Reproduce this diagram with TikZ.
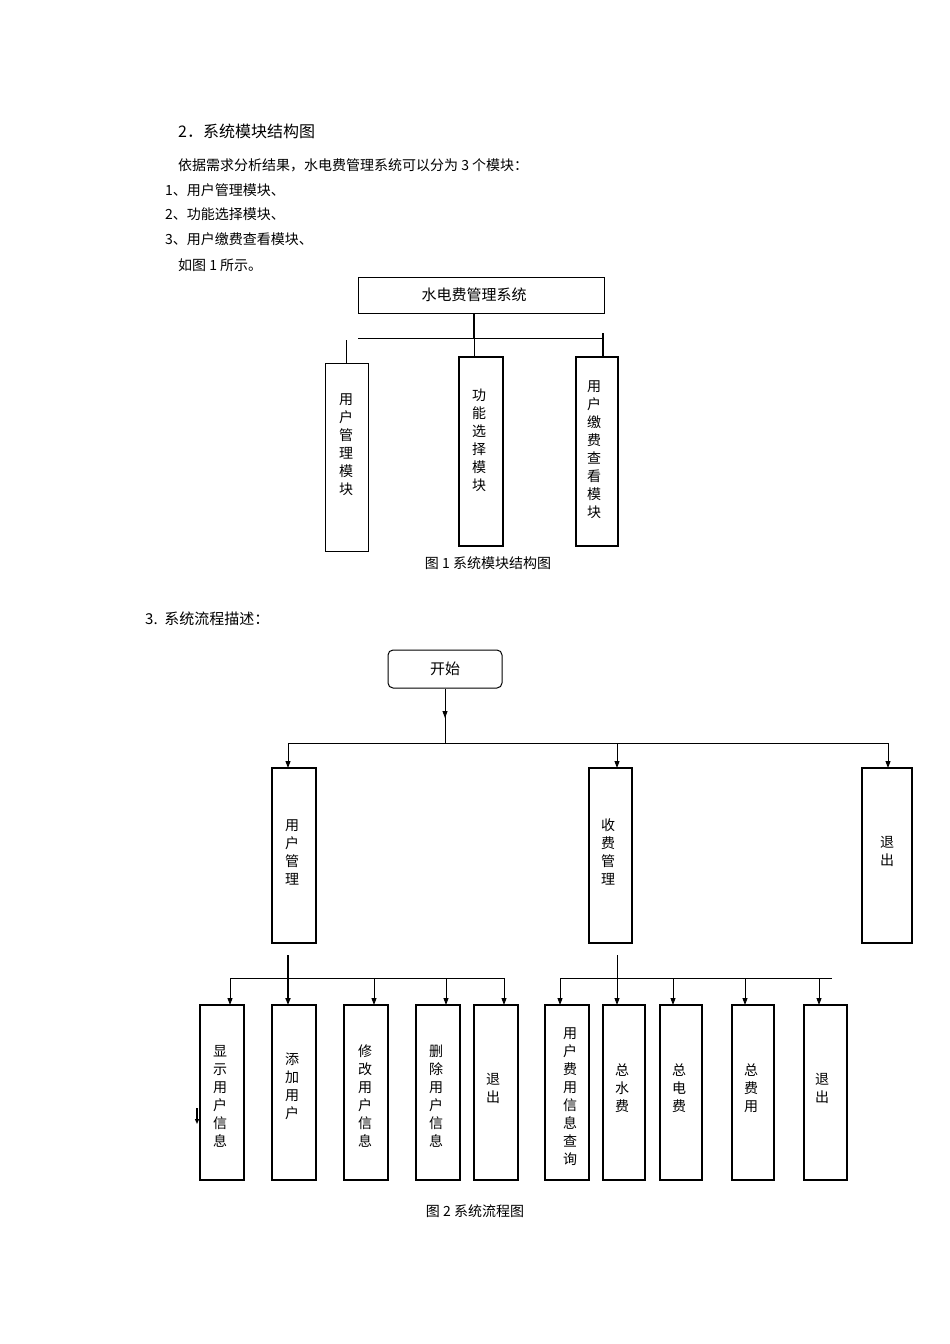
\documentclass[tikz,border=0pt]{standalone}
\usepackage{fontspec}
\setmainfont{Noto Sans CJK SC}
\usetikzlibrary{arrows.meta}
\begin{document}
\begin{tikzpicture}[x=1pt,y=-1pt,
  box/.style={draw,line width=1.2pt,minimum width=#1,inner sep=0pt},
  vt/.style={align=center,font=\fontsize{14}{18}\selectfont},
  ln/.style={line width=0.9pt},
  ar/.style={line width=0.9pt,-{Triangle[length=7pt,width=5pt]}},
  txt/.style={anchor=west,font=\fontsize{14}{16}\selectfont,inner sep=0pt}]
\useasboundingbox (0,0) rectangle (950,1344);
\node[txt,font=\fontsize{16}{18}\selectfont] (h1) at (178,131) {2．系统模块结构图};
\node[txt] (t1) at (178,165) {依据需求分析结果，水电费管理系统可以分为 3 个模块：};
\node[txt] (t2) at (165,190) {1、用户管理模块、};
\node[txt] (t3) at (165,214) {2、功能选择模块、};
\node[txt] (t4) at (165,239) {3、用户缴费查看模块、};
\node[txt] (t5) at (178,265) {如图 1 所示。};
% top diagram
\draw[line width=1pt] (358,277) rectangle (604,313);
\node[font=\fontsize{15}{18}\selectfont] (sys) at (474,295) {水电费管理系统};
\coordinate (sb) at (474,313);
\coordinate (hl) at (358,338);
\coordinate (hr) at (604,338);
\draw[line width=1.6pt] (sb) -- (474,338);
\draw[ln] (hl) -- (hr);
\draw[line width=1.6pt] (603,333) -- (603,357);
\draw[line width=0.6pt] (346,340) -- (346,363);
\draw[line width=0.6pt] (474,338) -- (474,357);
\draw[line width=1pt] (325,363) rectangle (368,551);
\draw[line width=1.4pt] (459,357) rectangle (503,546);
\draw[line width=1.4pt] (576,357) rectangle (618,546);
\node[vt] (m1) at (346,445) {用\\户\\管\\理\\模\\块};
\node[vt] (m2) at (479,440) {功\\能\\选\\择\\模\\块};
\node[vt] (m3) at (594,450) {用\\户\\缴\\费\\查\\看\\模\\块};
\node[font=\fontsize{14}{16}\selectfont] (c1) at (488,563) {图 1 系统模块结构图};
\node[txt,font=\fontsize{15}{18}\selectfont] (h2) at (145,619) {3.\ \ 系统流程描述：};
% flow
\node[draw,line width=1pt,rounded corners=5pt,minimum width=114pt,minimum height=38pt,font=\fontsize{15}{18}\selectfont] (start) at (445,669) {开始};
\draw[ar] (start.south) -- (445,718);
\draw[ln] (445,716) -- (445,743);
\draw[ln] (288,743) -- (888,743);
\draw[ar] (288,743) -- (288,768);
\draw[ar] (617,743) -- (617,768);
\draw[ar] (888,743) -- (888,768);
\draw[line width=1.4pt] (272,768) rectangle (316,943);
\draw[line width=1.4pt] (589,768) rectangle (632,943);
\draw[line width=1.4pt] (862,768) rectangle (912,943);
\node[vt] (um) at (292,852) {用\\户\\管\\理};
\node[vt] (fm) at (608,852) {收\\费\\管\\理};
\node[vt] (ex) at (887,851) {退\\出};
% user sub
\draw[ln] (230,978) -- (504,978);
\draw[line width=1.6pt,-{Triangle[length=7pt,width=5pt]}] (288,955) -- (288,1005);
\foreach \x in {230,374,446,504} \draw[ar] (\x,978) -- (\x,1005);
\foreach \a/\b in {200/244,272/316,344/388,416/460,474/518}
  \draw[line width=1.2pt] (\a,1005) rectangle (\b,1180);
\node[vt] (s1) at (220,1096) {显\\示\\用\\户\\信\\息};
\node[vt] (s2) at (292,1086) {添\\加\\用\\户};
\node[vt] (s3) at (365,1096) {修\\改\\用\\户\\信\\息};
\node[vt] (s4) at (436,1096) {删\\除\\用\\户\\信\\息};
\node[vt] (s5) at (493,1088) {退\\出};
\draw[line width=1.2pt,-{Triangle[length=5pt,width=4pt]}] (197,1108) -- (197,1124);
% fee sub
\draw[ln] (560,978) -- (832,978);
\draw[ar] (617,955) -- (617,1005);
\foreach \x in {560,673,745,819} \draw[ar] (\x,978) -- (\x,1005);
\foreach \a/\b in {545/589,603/645,660/702,732/774,804/847}
  \draw[line width=1.2pt] (\a,1005) rectangle (\b,1180);
\node[vt] (f1) at (570,1097) {用\\户\\费\\用\\信\\息\\查\\询};
\node[vt] (f2) at (622,1088) {总\\水\\费};
\node[vt] (f3) at (679,1088) {总\\电\\费};
\node[vt] (f4) at (751,1088) {总\\费\\用};
\node[vt] (f5) at (822,1088) {退\\出};
\node[font=\fontsize{14}{16}\selectfont] (c2) at (475,1211) {图 2 系统流程图};
\end{tikzpicture}
\end{document}
